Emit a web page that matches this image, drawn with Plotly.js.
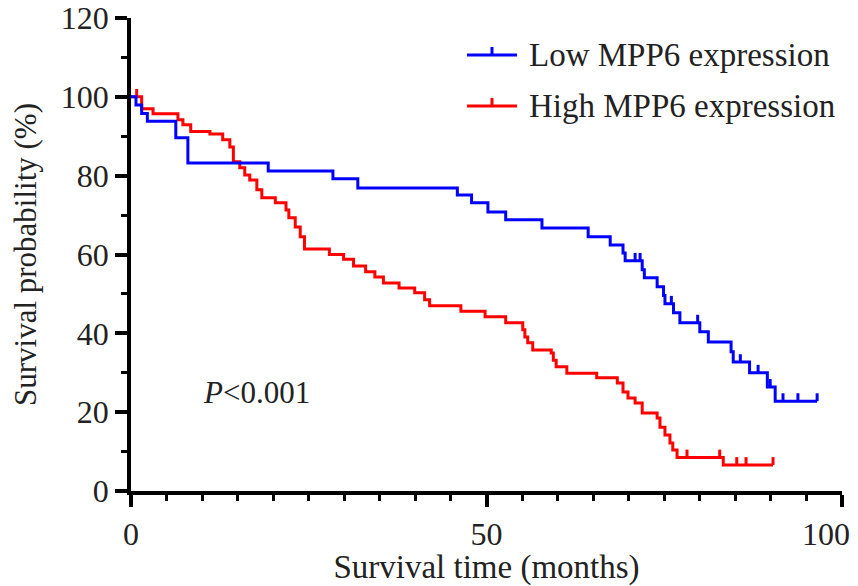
<!DOCTYPE html>
<html>
<head>
<meta charset="utf-8">
<script src="https://cdn.plot.ly/plotly-3.0.1.min.js"></script>
<style>
html,body{margin:0;padding:0;background:#fff;}
#warm{position:absolute;left:200px;top:200px;font-family:'Liberation Serif';font-size:32px;color:rgba(255,255,255,0);z-index:0;white-space:nowrap;}
#chart{position:absolute;left:0;top:0;width:858px;height:586px;z-index:1;}
</style>
</head>
<body>
<div id="warm">Survival probability 0123456789 <i>P</i></div>
<div id="chart"></div>
<script>
// Low MPP6 expression: step times (months) and survival (%) after each step
var lowTimes = [0, 0.7, 1.5, 2.3, 6.3, 8.0, 19.3, 28.4, 31.9, 45.9, 47.9, 50.2, 52.7, 57.8, 64.3, 67.4, 69.2, 69.5, 71.9, 72.2, 74.0, 74.9, 75.1, 76.3, 77.2, 80.0, 81.2, 84.4, 84.7, 87.0, 89.5, 90.6, 96.5];
var lowSurv  = [100, 97.9, 95.8, 93.8, 89.6, 83.2, 81.2, 79.2, 76.9, 75.1, 73.1, 70.8, 68.8, 66.7, 64.5, 62.4, 60.4, 58.4, 56.1, 54.1, 51.8, 49.6, 47.5, 45.2, 42.7, 40.4, 37.8, 35.3, 32.7, 30.0, 26.4, 22.8, 22.8];
var lowCensor = [70.9, 71.6, 76.0, 79.7, 85.7, 88.2, 89.9, 91.7, 93.8, 96.5];

// High MPP6 expression
var highTimes = [0, 1.5, 3.1, 6.6, 7.3, 8.4, 11.1, 12.9, 13.9, 14.4, 15.3, 16.0, 16.7, 17.7, 18.4, 20.3, 21.8, 22.2, 23.1, 23.8, 24.4, 27.9, 29.9, 31.3, 33.0, 34.3, 35.5, 37.7, 39.9, 41.3, 42.0, 46.4, 49.8, 52.7, 55.1, 55.4, 55.8, 56.5, 59.1, 59.4, 59.8, 61.3, 65.5, 68.4, 69.2, 69.9, 70.9, 71.9, 74.0, 74.4, 75.1, 75.8, 76.2, 76.8, 83.3, 90.3];
var highSurv  = [100, 97.0, 95.7, 94.2, 92.9, 91.2, 90.6, 89.1, 87.3, 83.5, 82.0, 80.2, 78.9, 76.4, 74.4, 73.1, 71.3, 69.3, 67.0, 64.5, 61.4, 60.0, 58.8, 57.1, 55.6, 54.3, 52.8, 51.5, 50.3, 48.5, 47.0, 45.6, 44.2, 42.7, 40.9, 39.1, 37.6, 35.8, 35.0, 33.2, 31.5, 29.9, 28.7, 27.4, 25.1, 23.6, 22.3, 19.8, 18.5, 16.2, 14.2, 12.2, 10.4, 8.5, 6.6, 6.6];
var highCensor = [0.8, 78.2, 82.8, 85.2, 86.5, 90.3];

var seriesNames = ['Low MPP6 expression', 'High MPP6 expression'];
var seriesColors = ['#0000ff', '#ff0000'];
var xTickVals = [0, 50, 100];
var yTickVals = [0, 20, 40, 60, 80, 100, 120];
var pText = '<i>P</i>&lt;0.001';

var TICKUP = 2.0; // censor tick height in % units

function survAt(times, surv, t) {
  var s = surv[0];
  for (var i = 0; i < times.length; i++) { if (times[i] <= t) s = surv[i]; }
  return s;
}
function censorSegs(times, surv, cens) {
  var xs = [], ys = [];
  cens.forEach(function (c) {
    var s = survAt(times, surv, c);
    xs.push(c, c, null); ys.push(s, s + TICKUP, null);
  });
  return {x: xs, y: ys};
}

var lowC = censorSegs(lowTimes, lowSurv, lowCensor);
var highC = censorSegs(highTimes, highSurv, highCensor);

var traces = [
  {x: highTimes, y: highSurv, name: seriesNames[1], mode: 'lines', line: {color: seriesColors[1], width: 3, shape: 'hv'}, showlegend: false},
  {x: highC.x, y: highC.y, mode: 'lines', line: {color: seriesColors[1], width: 3}, showlegend: false, hoverinfo: 'skip'},
  {x: lowTimes, y: lowSurv, name: seriesNames[0], mode: 'lines', line: {color: seriesColors[0], width: 3, shape: 'hv'}, showlegend: false},
  {x: lowC.x, y: lowC.y, mode: 'lines', line: {color: seriesColors[0], width: 3}, showlegend: false, hoverinfo: 'skip'}
];

// manual legend (paper coordinates)
var legendRows = [{y: 0.9218, tick: 0.017}, {y: 0.8140, tick: 0.017}];
var shapes = [], annotations = [];
legendRows.forEach(function (r, i) {
  shapes.push({type: 'line', xref: 'paper', yref: 'paper', x0: 0.4726, x1: 0.5429, y0: r.y, y1: r.y, line: {color: seriesColors[i], width: 3}});
  shapes.push({type: 'line', xref: 'paper', yref: 'paper', x0: 0.5077, x1: 0.5077, y0: r.y, y1: r.y + r.tick, line: {color: seriesColors[i], width: 3}});
  annotations.push({xref: 'paper', yref: 'paper', x: 0.557, y: r.y, xanchor: 'left', yanchor: 'middle', showarrow: false, text: seriesNames[i], font: {size: 33}});
});
annotations.push({xref: 'x', yref: 'y', x: 9.8, y: 24.9, xanchor: 'left', yanchor: 'middle', showarrow: false, text: pText, font: {size: 31}});
// last x tick label, nudged inside the page like the reference
annotations.push({xref: 'x', yref: 'paper', x: 100, y: 0, yshift: -23, xshift: 10, xanchor: 'right', yanchor: 'top', showarrow: false, text: '100', font: {size: 32}});

var layout = {
  width: 858, height: 586,
  margin: {l: 131, r: 16, t: 18, b: 95},
  paper_bgcolor: 'rgba(0,0,0,0)', plot_bgcolor: 'rgba(0,0,0,0)',
  showlegend: false,
  font: {family: 'Liberation Serif', size: 32, color: '#222'},
  xaxis: {
    range: [0, 100], showgrid: false, zeroline: false,
    showline: true, linecolor: '#000', linewidth: 3.5,
    ticks: 'outside', ticklen: 12, tickwidth: 3.5, tickcolor: '#000',
    tickvals: xTickVals, ticktext: ['0', '50', ''],
    minor: {dtick: 5, ticks: 'outside', ticklen: 6, tickwidth: 3, tickcolor: '#000', showgrid: false},
    title: {text: 'Survival time (months)', font: {size: 33}, standoff: 4}
  },
  yaxis: {
    range: [0, 120], showgrid: false, zeroline: false,
    showline: true, linecolor: '#000', linewidth: 3.5,
    ticks: 'outside', ticklen: 12, tickwidth: 3.5, tickcolor: '#000',
    tickvals: yTickVals, ticktext: yTickVals.map(String),
    minor: {dtick: 10, ticks: 'outside', ticklen: 6, tickwidth: 3, tickcolor: '#000', showgrid: false},
    title: {text: 'Survival probability (%)', font: {size: 31}, standoff: 16}
  },
  shapes: shapes,
  annotations: annotations
};

var config = {displayModeBar: false};
function draw() { Plotly.newPlot('chart', traces, layout, config); }
draw();
if (document.fonts && document.fonts.ready) { document.fonts.ready.then(draw); }
</script>
</body>
</html>
